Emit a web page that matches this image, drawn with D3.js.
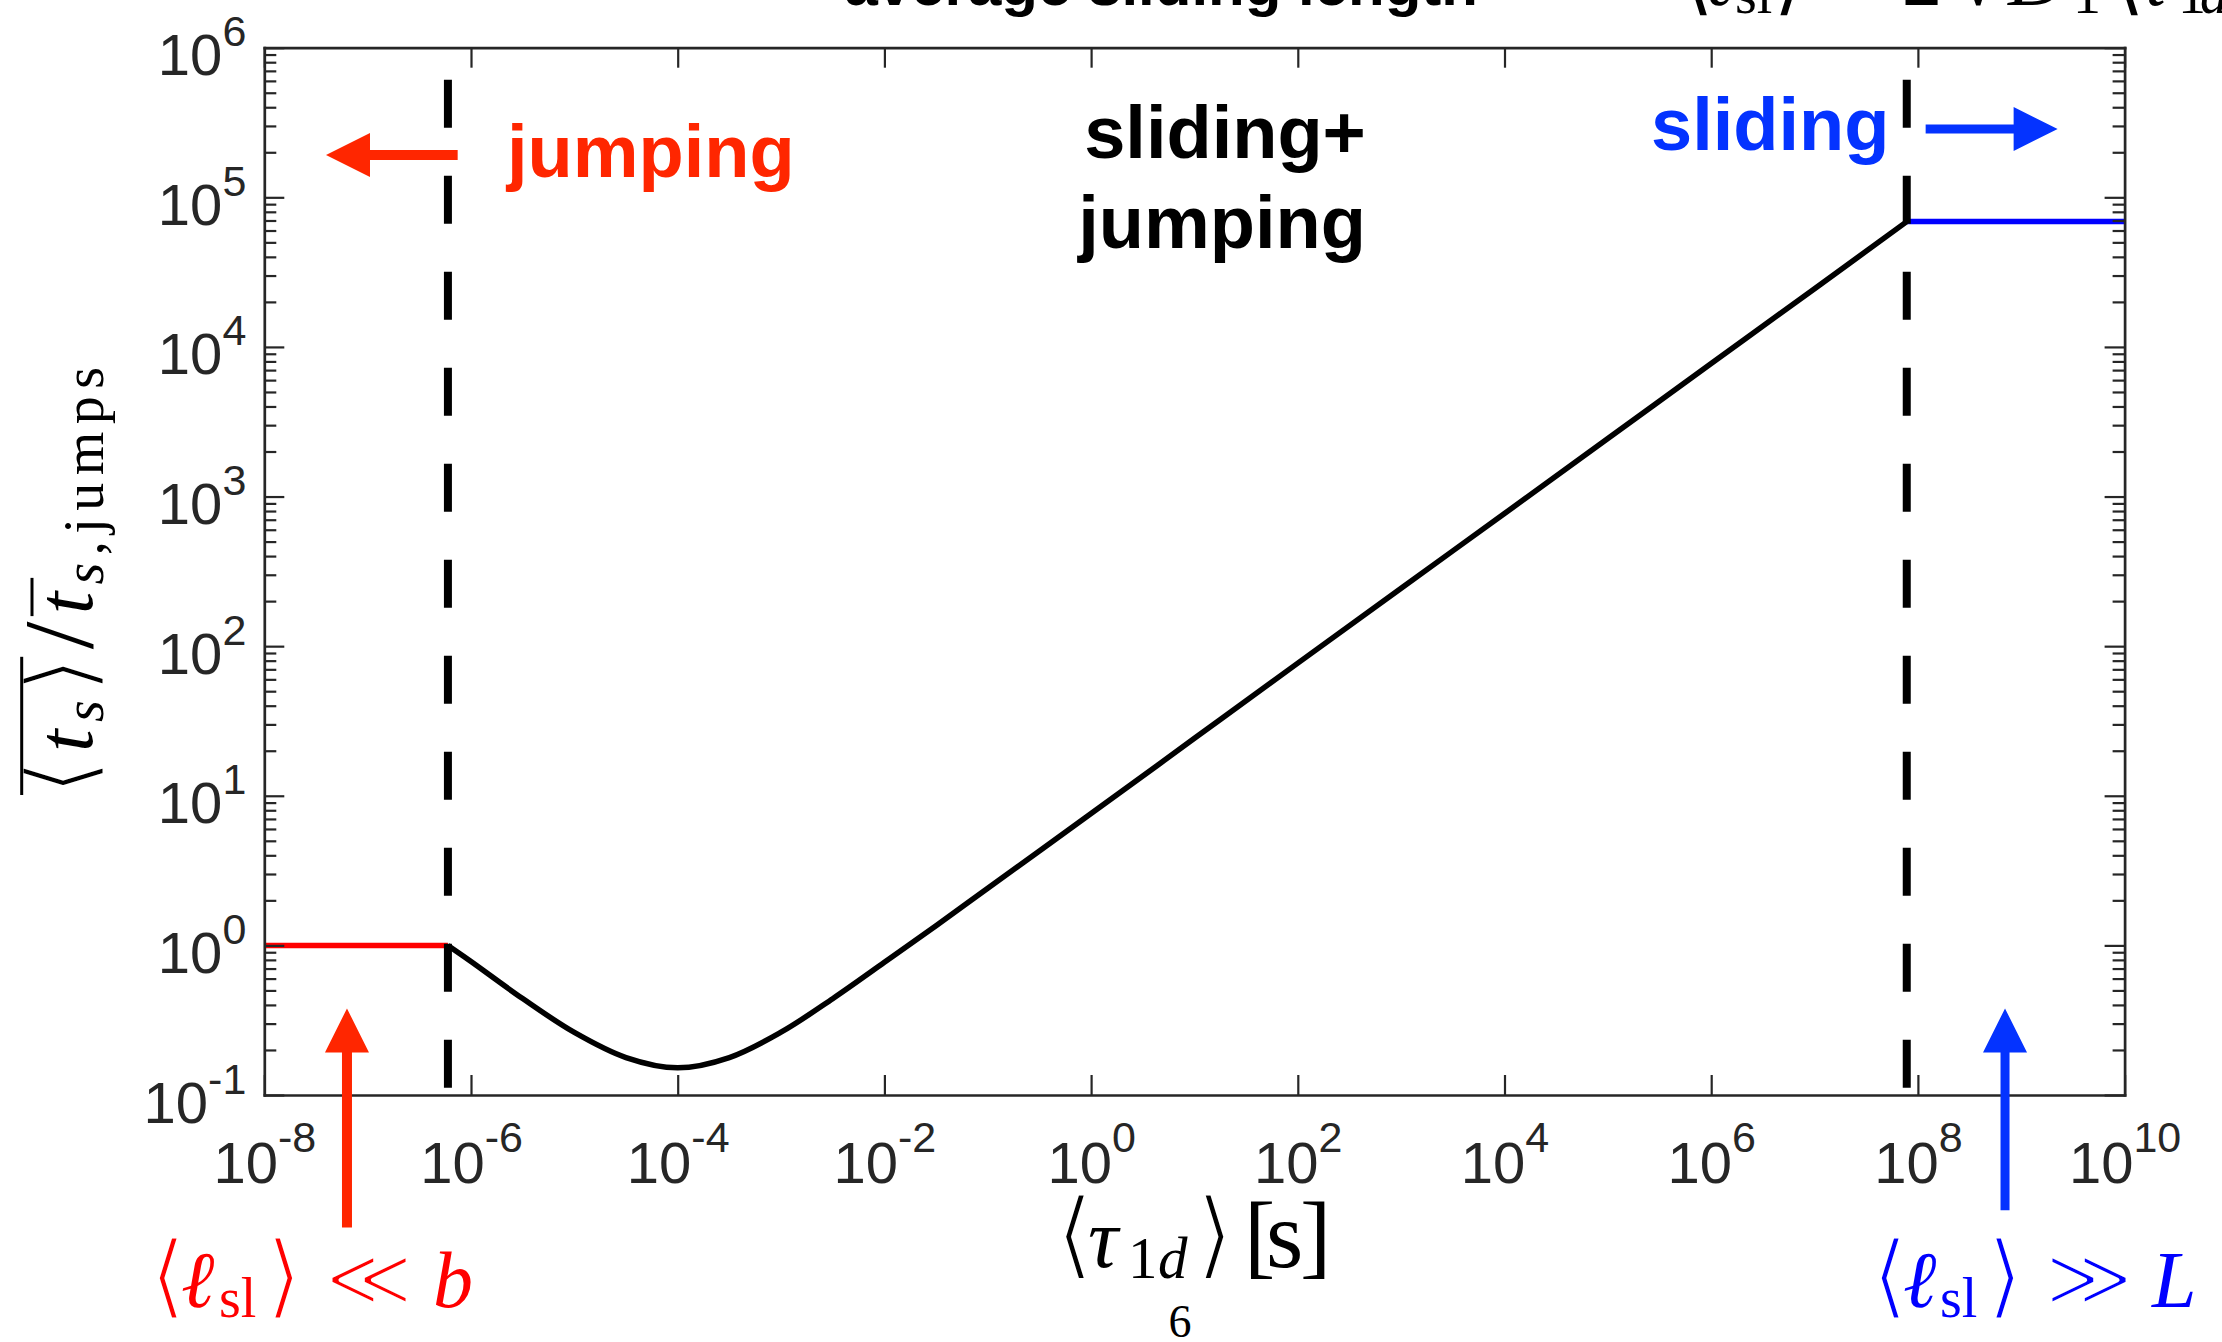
<!DOCTYPE html>
<html><head><meta charset="utf-8">
<script src="https://cdn.jsdelivr.net/npm/d3@7"></script>
<style>html,body{margin:0;padding:0;background:#fff;overflow:hidden}</style>
</head><body>
<svg id="chart" width="2222" height="1342" xmlns="http://www.w3.org/2000/svg"></svg>
<script>
// ---------------- data ----------------
const xTickValues = [1e-8, 1e-6, 1e-4, 1e-2, 1e0, 1e2, 1e4, 1e6, 1e8, 1e10];
const xTickExponents = ["-8", "-6", "-4", "-2", "0", "2", "4", "6", "8", "10"];
const yTickValues = [1e-1, 1e0, 1e1, 1e2, 1e3, 1e4, 1e5, 1e6];
const yTickExponents = ["-1", "0", "1", "2", "3", "4", "5", "6"];

// jumping regime (red), sliding+jumping (black), sliding regime (blue)
const jumpingX = [1e-8, 5.98e-7];
const jumpingY = [1, 1];
const mixedX = [5.98e-7, 1e-6, 3.16e-6, 1e-5, 3.16e-5, 1e-4, 3.16e-4, 1e-3, 3.16e-3, 1e-2, 3.16e-2, 1e-1, 3.16e-1, 1e0, 1e1, 1e2, 1e3, 1e4, 1e5, 1e6, 1e7, 7.8e7];
const mixedY = [1.0, 0.78, 0.441, 0.262, 0.178, 0.152, 0.178, 0.263, 0.44, 0.77, 1.355, 2.41, 4.28, 7.6, 24.2, 77, 244, 770, 2440, 7750, 24500, 68800];
const slidingX = [7.8e7, 1e10];
const slidingY = [68800, 68800];
const boundaries = [5.98e-7, 7.8e7];

// ---------------- layout ----------------
const plot = {left: 264.3, right: 2124.6, top: 47.7, bottom: 1095};
const AX = "#262626";
const SANS = "'Liberation Sans', Arial, Helvetica, sans-serif";
const SERIF = "'Liberation Serif', 'DejaVu Serif', serif";
const SYM = "'DejaVu Serif', 'DejaVu Sans', serif";
const RED_A = "#ff2600", BLUE_A = "#0433ff";

const svg = d3.select("#chart");
svg.append("rect").attr("width", 2222).attr("height", 1342).attr("fill", "#fff");

const x = d3.scaleLog().domain([1e-8, 1e10]).range([plot.left, plot.right]);
const y = d3.scaleLog().domain([1e-1, 1e6]).range([plot.bottom, plot.top]);

svg.append("clipPath").attr("id", "clip").append("rect")
  .attr("x", plot.left).attr("y", plot.top)
  .attr("width", plot.right - plot.left).attr("height", plot.bottom - plot.top);

const zip = (a, b) => a.map((v, i) => [v, b[i]]);
const lin = d3.line().x(d => x(d[0])).y(d => y(d[1]));
const smooth = d3.line().x(d => x(d[0])).y(d => y(d[1])).curve(d3.curveCatmullRom.alpha(0.5));

const data = svg.append("g").attr("clip-path", "url(#clip)");
data.append("path").datum(zip(jumpingX, jumpingY)).attr("d", lin)
  .attr("fill", "none").attr("stroke", "#ff0000").attr("stroke-width", 5.5);
data.append("path").datum(zip(slidingX, slidingY)).attr("d", lin)
  .attr("fill", "none").attr("stroke", "#0000ff").attr("stroke-width", 5.5);
data.append("path").datum(zip(mixedX, mixedY)).attr("d", smooth)
  .attr("fill", "none").attr("stroke", "#000").attr("stroke-width", 5.5).attr("stroke-linejoin", "round");

data.selectAll("line.bound").data(boundaries).join("line").attr("class", "bound")
  .attr("x1", d => x(d)).attr("x2", d => x(d))
  .attr("y1", y.range()[1]).attr("y2", y.range()[0])
  .attr("stroke", "#000").attr("stroke-width", 8)
  .attr("stroke-dasharray", "48 48").attr("stroke-dashoffset", 64);

// ---------------- axes ----------------
const yMinor = [];
for (let k = -1; k < 6; k++) for (let m = 2; m <= 9; m++) yMinor.push(m * Math.pow(10, k));

function styleAxis(g) {
  g.attr("font-family", SANS).attr("font-size", 58);
  g.selectAll("path.domain").attr("stroke", AX).attr("stroke-width", 2.7).attr("stroke-linecap", "square");
  g.selectAll(".tick line").attr("stroke", AX).attr("stroke-width", 2.2);
}

const axB = svg.append("g").attr("class", "axis").attr("transform", `translate(0,${plot.bottom})`)
  .call(d3.axisBottom(x).tickValues(xTickValues).tickSize(-20).tickSizeOuter(0).tickFormat(() => ""));
styleAxis(axB);
axB.selectAll(".tick text").each(function (d, i) {
  const t = d3.select(this).text(null).attr("y", 88).attr("dy", null).attr("text-anchor", "middle").attr("fill", AX);
  t.append("tspan").text("10");
  t.append("tspan").attr("font-size", 43).attr("dy", -31).text(xTickExponents[i]);
});

const axT = svg.append("g").attr("class", "axis").attr("transform", `translate(0,${plot.top})`)
  .call(d3.axisTop(x).tickValues(xTickValues).tickSize(-20).tickSizeOuter(0).tickFormat(() => ""));
styleAxis(axT); axT.selectAll(".tick text").remove();

const axL = svg.append("g").attr("class", "axis").attr("transform", `translate(${plot.left},0)`)
  .call(d3.axisLeft(y).tickValues(yTickValues).tickSize(-20).tickSizeOuter(0).tickFormat(() => ""));
styleAxis(axL);
axL.selectAll(".tick text").each(function (d, i) {
  const t = d3.select(this).text(null).attr("x", -18).attr("y", 27).attr("dy", null).attr("text-anchor", "end").attr("fill", AX);
  t.append("tspan").text("10");
  t.append("tspan").attr("font-size", 43).attr("dy", -29).text(yTickExponents[i]);
});
const axLm = svg.append("g").attr("class", "axis").attr("transform", `translate(${plot.left},0)`)
  .call(d3.axisLeft(y).tickValues(yMinor).tickSize(-12).tickSizeOuter(0).tickFormat(() => ""));
styleAxis(axLm); axLm.select(".domain").remove(); axLm.selectAll(".tick text").remove();

const axR = svg.append("g").attr("class", "axis").attr("transform", `translate(${plot.right},0)`)
  .call(d3.axisRight(y).tickValues(yTickValues).tickSize(-20).tickSizeOuter(0).tickFormat(() => ""));
styleAxis(axR); axR.selectAll(".tick text").remove();
const axRm = svg.append("g").attr("class", "axis").attr("transform", `translate(${plot.right},0)`)
  .call(d3.axisRight(y).tickValues(yMinor).tickSize(-12).tickSizeOuter(0).tickFormat(() => ""));
styleAxis(axRm); axRm.select(".domain").remove(); axRm.selectAll(".tick text").remove();

// ---------------- annotation arrows ----------------
const arrows = [
  {from: [10 ** -6.129, 10 ** 5.283], to: [10 ** -7.403, 10 ** 5.283], color: RED_A, w: 10},
  {from: [10 ** 8.075, 10 ** 5.457], to: [10 ** 9.352, 10 ** 5.457], color: BLUE_A, w: 9},
  {from: [10 ** -7.2, 10 ** -1.885], to: [10 ** -7.2, 10 ** -0.4215], color: RED_A, w: 10},
  {from: [10 ** 8.843, 10 ** -1.771], to: [10 ** 8.843, 10 ** -0.4215], color: BLUE_A, w: 9}
];
const HEAD_L = 44, HEAD_W = 44;
arrows.forEach(a => {
  const x0 = x(a.from[0]), y0 = y(a.from[1]), x1 = x(a.to[0]), y1 = y(a.to[1]);
  const len = Math.hypot(x1 - x0, y1 - y0), ux = (x1 - x0) / len, uy = (y1 - y0) / len;
  const px = -uy, py = ux;
  const bx = x1 - ux * HEAD_L, by = y1 - uy * HEAD_L;
  const hw = a.w / 2, hh = HEAD_W / 2;
  const pts = [
    [x0 + px * hw, y0 + py * hw], [bx + px * hw, by + py * hw], [bx + px * hh, by + py * hh],
    [x1, y1], [bx - px * hh, by - py * hh], [bx - px * hw, by - py * hw], [x0 - px * hw, y0 - py * hw]
  ];
  svg.append("path").attr("d", "M" + pts.map(p => p.join(",")).join("L") + "Z").attr("fill", a.color);
});

// ---------------- region labels ----------------
const bold = (txt, xx, yy, col, anchor) => svg.append("text").attr("x", xx).attr("y", yy)
  .attr("font-family", SANS).attr("font-weight", "bold").attr("font-size", 74)
  .attr("fill", col).attr("text-anchor", anchor || "start").text(txt);
bold("jumping", 507, 177, RED_A);
bold("sliding+", 1225, 158, "#000", "middle");
bold("jumping", 1222, 248, "#000", "middle");
bold("sliding", 1651, 150, BLUE_A);

// ---------------- math labels ----------------
function thin(sel, w) {
  sel.attr("stroke", "#fff").attr("stroke-width", w).attr("paint-order", "fill stroke").attr("stroke-linejoin", "round");
}
function mathText(parts, color, base) {
  const t = svg.append("text").attr("font-family", SERIF).attr("fill", color);
  parts.forEach(p => {
    const s = t.append("tspan").attr("x", p.x).attr("y", base + (p.dy || 0))
      .attr("font-size", p.fs || 80).text(p.t);
    if (p.it) s.attr("font-style", "italic");
    if (p.sym) { s.attr("font-family", SYM); thin(s, p.sw || 3); }
  });
  return t;
}
mathText([
  {t: "⟨", x: 150, fs: 92, sym: 1}, {t: "ℓ", x: 181, it: 1}, {t: "sl", x: 219, fs: 56, dy: 10},
  {t: "⟩", x: 266, fs: 92, sym: 1}, {t: "≪", x: 324, fs: 86, sym: 1, sw: 4.5}, {t: "b", x: 433, it: 1}
], "#ff0000", 1307);
mathText([
  {t: "⟨", x: 1872, fs: 92, sym: 1}, {t: "ℓ", x: 1903, it: 1}, {t: "sl", x: 1940, fs: 56, dy: 10},
  {t: "⟩", x: 1987, fs: 92, sym: 1}, {t: "≫", x: 2044, fs: 86, sym: 1, sw: 4.5}, {t: "L", x: 2152, it: 1}
], "#0000ff", 1307);
mathText([
  {t: "⟨", x: 1056, fs: 96, sym: 1}, {t: "τ", x: 1088, fs: 84, it: 1}, {t: "1", x: 1128, fs: 59, dy: 11},
  {t: "d", x: 1158, fs: 59, dy: 11, it: 1}, {t: "⟩", x: 1196, fs: 96, sym: 1},
  {t: "[", x: 1244, fs: 94}, {t: "s", x: 1266, fs: 96}, {t: "]", x: 1300, fs: 94}
], "#000", 1267);

// page number
svg.append("text").attr("x", 1180).attr("y", 1337).attr("text-anchor", "middle")
  .attr("font-family", SERIF).attr("font-size", 46).attr("fill", "#000").text("6");

// y label (rotated)
const yl = svg.append("g").attr("transform", "rotate(-90)");
const ylt = yl.append("text").attr("x", -795).attr("y", 92).attr("font-family", SERIF)
  .attr("font-size", 80).attr("fill", "#000");
thin(ylt.append("tspan").attr("font-family", SYM).attr("font-size", 92).text("⟨"), 3);
ylt.append("tspan").attr("font-style", "italic").text("t");
ylt.append("tspan").attr("font-style", "italic").attr("font-size", 56).attr("dy", 11).text("s");
thin(ylt.append("tspan").attr("dy", -11).attr("font-family", SYM).attr("font-size", 92).text("⟩"), 3);
ylt.append("tspan").attr("font-size", 100).text("/");
ylt.append("tspan").attr("font-style", "italic").text("t");
ylt.append("tspan").attr("font-style", "italic").attr("font-size", 56).attr("dy", 11).text("s");
ylt.append("tspan").attr("font-size", 56).text(",jumps");
ylt.attr("textLength", 428).attr("lengthAdjust", "spacing");
const tn = ylt.node();
try {
  const s0 = tn.getStartPositionOfChar(0).x, e3 = tn.getEndPositionOfChar(3).x;
  const s5 = tn.getStartPositionOfChar(5).x, e5 = tn.getEndPositionOfChar(5).x;
  yl.append("line").attr("x1", s0).attr("x2", e3).attr("y1", 21.7).attr("y2", 21.7).attr("stroke", "#000").attr("stroke-width", 3);
  yl.append("line").attr("x1", s5 - 2).attr("x2", e5 + 14).attr("y1", 32).attr("y2", 32).attr("stroke", "#000").attr("stroke-width", 3);
} catch (e) {}

// title (cut off at top of page)
const tt = svg.append("text").attr("y", 5).attr("fill", "#000");
tt.append("tspan").attr("x", 844.5).attr("font-family", SANS).attr("font-weight", "bold").attr("font-size", 60)
  .text("average sliding length ");
const tparts = [
  {t: "⟨", x: 1682}, {t: "ℓ", x: 1702, it: 1}, {t: "sl", x: 1735, fs: 56, dy: 8}, {t: "⟩", x: 1774},
  {t: "=", x: 1828}, {t: "2", x: 1902}, {t: "√", x: 1956}, {t: "D", x: 2008, it: 1},
  {t: "1", x: 2073, fs: 56, dy: 8}, {t: "⟨", x: 2113}, {t: "τ", x: 2140, it: 1},
  {t: "1", x: 2178, fs: 56, dy: 8}, {t: "d", x: 2200, fs: 56, dy: 8, it: 1}, {t: "⟩", x: 2232}
];
tparts.forEach(p => {
  const s = tt.append("tspan").attr("x", p.x).attr("y", 5 + (p.dy || 0)).attr("font-family", SERIF)
    .attr("font-size", p.fs || 80).text(p.t);
  if (p.it) s.attr("font-style", "italic");
});
</script>
</body></html>
